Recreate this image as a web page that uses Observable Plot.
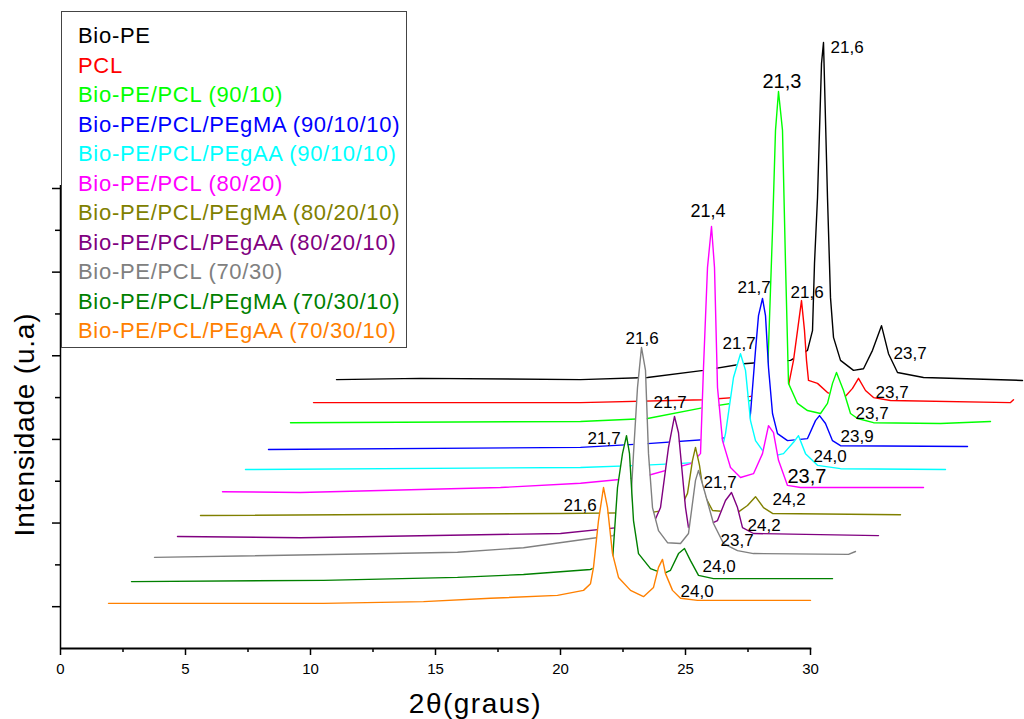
<!DOCTYPE html>
<html><head><meta charset="utf-8">
<script src="https://cdn.jsdelivr.net/npm/d3@7"></script>
<script src="https://cdn.jsdelivr.net/npm/@observablehq/plot@0.6"></script>
<style>
html,body{margin:0;padding:0;background:#fff;}
#wrap{position:relative;width:1024px;height:719px;font-family:"Liberation Sans",Arial,Helvetica,sans-serif;}
#legend{position:absolute;left:61px;top:11px;width:346px;height:337px;box-sizing:border-box;border:1px solid #444;background:#fff;padding-top:9px;}
#legend div{font-size:22px;line-height:29.5px;padding-left:16px;letter-spacing:0.7px;white-space:nowrap;}
</style></head>
<body><div id="wrap"><div id="legend"></div></div>
<script>
// ---- series: [2θ as plotted, intensity as plotted (offset waterfall)] ----
const bioPE = [[11.04,6.43],[14.4,6.46],[20.8,6.43],[23.48,6.48],[25.72,6.65],[27.32,6.81],[29.2,6.89],[29.88,7.13],[30.08,7.60],[30.16,9.21],[30.28,10.78],[30.44,13.99],[30.52,14.49],[30.68,10.78],[30.8,8.39],[30.92,7.44],[31.2,6.89],[31.72,6.65],[32.12,6.69],[32.48,7.13],[32.84,7.72],[33.12,7.05],[33.48,6.60],[34.52,6.48],[38.48,6.41]];
const pcl = [[10.12,5.88],[20.8,5.88],[25.72,5.95],[27.6,6.03],[29.12,6.29],[29.32,6.89],[29.48,7.60],[29.64,8.32],[29.76,7.60],[29.84,6.89],[29.92,6.41],[30.28,6.34],[30.68,6.12],[31.32,5.98],[31.68,6.22],[31.92,6.46],[32.2,6.17],[32.52,6.00],[33.2,5.93],[38.0,5.88],[38.12,5.95]];
const pe90 = [[9.2,5.40],[20.8,5.43],[23.48,5.50],[25.72,5.76],[27.6,5.93],[28.08,6.03],[28.28,6.48],[28.48,9.99],[28.6,12.39],[28.72,13.32],[28.88,12.39],[29.0,9.21],[29.12,6.34],[29.48,5.86],[29.88,5.69],[30.4,5.62],[30.68,5.86],[30.88,6.34],[31.04,6.60],[31.32,6.17],[31.6,5.62],[31.88,5.50],[32.52,5.40],[35.2,5.38],[37.2,5.43]];
const pma90 = [[8.32,4.76],[20.8,4.81],[23.48,4.90],[26.4,5.02],[27.48,5.14],[27.6,5.62],[27.8,7.13],[27.92,7.96],[28.08,8.37],[28.2,7.96],[28.32,6.72],[28.48,5.62],[28.68,5.14],[29.08,4.97],[29.88,5.02],[30.2,5.45],[30.36,5.57],[30.6,5.38],[30.88,4.97],[31.2,4.85],[36.28,4.83]];
const paa90 = [[7.4,4.28],[20.8,4.33],[23.2,4.38],[25.6,4.45],[26.4,4.61],[26.6,5.14],[26.92,6.48],[27.2,7.05],[27.4,6.65],[27.6,5.45],[27.8,4.97],[28.28,4.57],[28.92,4.66],[29.32,4.93],[29.52,5.09],[29.8,4.66],[30.28,4.38],[31.2,4.30],[35.4,4.28]];
const pe80 = [[6.48,3.75],[9.6,3.73],[17.6,3.85],[20.8,3.95],[23.2,4.09],[25.2,4.42],[25.6,4.66],[25.72,6.72],[25.88,9.11],[26.04,10.09],[26.16,9.11],[26.28,6.24],[26.48,4.97],[26.8,4.33],[27.2,4.09],[27.72,4.18],[28.08,4.66],[28.32,5.33],[28.52,5.16],[28.72,4.50],[29.08,3.90],[29.6,3.85],[34.52,3.85]];
const pma80 = [[5.6,3.18],[20.0,3.23],[23.6,3.25],[24.8,3.37],[25.08,3.71],[25.28,4.50],[25.4,4.81],[25.56,4.38],[25.72,3.71],[26.08,3.30],[27.08,3.25],[27.48,3.42],[27.8,3.63],[28.12,3.37],[28.48,3.23],[33.6,3.20]];
const paa80 = [[4.68,2.68],[9.6,2.65],[20.0,2.75],[22.28,2.89],[23.72,2.99],[24.0,3.37],[24.32,4.81],[24.56,5.55],[24.72,5.16],[25.0,3.37],[25.12,2.89],[25.6,2.87],[26.28,3.06],[26.6,3.54],[26.84,3.73],[27.08,3.37],[27.28,2.89],[27.72,2.75],[32.72,2.70]];
const pe70 = [[3.76,2.18],[13.2,2.27],[15.88,2.30],[18.52,2.41],[21.2,2.63],[22.12,2.70],[22.8,3.37],[22.92,4.66],[23.08,6.24],[23.24,7.20],[23.4,6.65],[23.52,4.66],[23.68,3.37],[23.92,2.82],[24.28,2.53],[24.8,2.51],[25.12,2.75],[25.4,4.02],[25.52,4.26],[25.72,3.85],[26.12,2.99],[26.52,2.51],[27.08,2.34],[27.72,2.27],[31.52,2.25],[31.8,2.32]];
const pma70 = [[2.84,1.60],[10.52,1.63],[15.88,1.70],[18.52,1.77],[21.2,1.89],[22.08,2.10],[22.28,3.85],[22.48,4.66],[22.64,5.09],[22.76,4.66],[22.92,3.06],[23.12,2.27],[23.6,1.91],[24.12,1.79],[24.4,1.87],[24.72,2.27],[24.96,2.39],[25.2,2.10],[25.52,1.75],[26.12,1.67],[30.88,1.67]];
const paa70 = [[1.92,1.08],[10.52,1.08],[14.52,1.12],[17.2,1.20],[19.88,1.27],[20.92,1.39],[21.2,1.55],[21.32,1.94],[21.52,3.06],[21.72,3.85],[21.88,3.37],[22.08,2.27],[22.32,1.70],[22.8,1.39],[23.32,1.24],[23.72,1.46],[23.92,1.94],[24.08,2.13],[24.2,1.79],[24.48,1.39],[24.8,1.20],[25.48,1.15],[30.0,1.15]];

const seriesNames = ["Bio-PE","PCL","Bio-PE/PCL (90/10)","Bio-PE/PCL/PEgMA (90/10/10)","Bio-PE/PCL/PEgAA (90/10/10)","Bio-PE/PCL (80/20)","Bio-PE/PCL/PEgMA (80/20/10)","Bio-PE/PCL/PEgAA (80/20/10)","Bio-PE/PCL (70/30)","Bio-PE/PCL/PEgMA (70/30/10)","Bio-PE/PCL/PEgAA (70/30/10)"];
const seriesData = [bioPE,pcl,pe90,pma90,paa90,pe80,pma80,paa80,pe70,pma70,paa70];
const seriesColors = ["#000000","#ff0000","#00ff00","#0000ff","#00ffff","#ff00ff","#808000","#800080","#808080","#008000","#ff8000"];

// peak annotations: text, 2θ (left edge), intensity (baseline)
const peakText = ["21,6","23,7","21,6","23,7","21,3","23,7","21,7","23,9","21,7","24,0","21,4","23,7","21,7","24,2","21,7","24,2","21,6","23,7","21,7","24,0","21,6","24,0"];
const peakX = [30.8,33.32,29.2,32.6,28.08,31.8,27.08,31.2,26.48,30.12,25.2,29.08,25.72,28.48,23.72,27.48,22.6,26.4,21.08,25.68,20.12,24.8];
const peakY = [14.23,6.93,8.39,6.00,13.41,5.50,8.49,4.93,7.17,4.45,10.31,3.95,3.85,3.42,5.76,2.82,7.29,2.44,4.90,1.84,3.30,1.22];

const xMajor = [0,5,10,15,20,25,30];
const xMinor = [2.5,7.5,12.5,17.5,22.5,27.5];
const yMajor = [1,3,5,7,9,11];
const yMinor = [2,4,6,8,10];

const FONT = '"Liberation Sans", Arial, Helvetica, sans-serif';
const labelSize = i => (i === 4 || i === 11) ? 20 : (i === 10 ? 18 : 17);

const marks = [];
seriesData.forEach((d, i) => {
  marks.push(Plot.areaY(d, {x: p => p[0], y: p => p[1], fill: "white"}));
  marks.push(Plot.line(d, {x: p => p[0], y: p => p[1], stroke: seriesColors[i], strokeWidth: 1.4}));
});
marks.push(
  Plot.ruleY([0], {x1: 0, x2: 30.05, stroke: "black", strokeWidth: 2}),
  Plot.ruleX([0], {y1: 0, y2: 11.07, stroke: "black", strokeWidth: 1.5}),
  Plot.axisX({ticks: xMajor, tickSize: 7, tickPadding: 8, fontSize: 15, strokeWidth: 1.5, tickFormat: d => String(d), label: null}),
  Plot.axisX({ticks: xMinor, tickSize: 4, strokeWidth: 1.5, tickFormat: () => "", label: null}),
  Plot.axisY({ticks: yMajor, tickSize: 8, strokeWidth: 1.5, tickFormat: () => "", label: null}),
  Plot.axisY({ticks: yMinor, tickSize: 5, strokeWidth: 1.5, tickFormat: () => "", label: null}),
  Plot.text(peakText, {x: (d, i) => peakX[i], y: (d, i) => peakY[i], text: d => d, textAnchor: "start", lineAnchor: "bottom", fontSize: (d, i) => labelSize(i), fill: "black"}),
  Plot.text(["2θ(graus)"], {text: d => d, frameAnchor: "bottom", dx: 40, dy: 56, fontSize: 28, lineAnchor: "middle", textAnchor: "middle", style: "letter-spacing:1.5px"}),
  Plot.text(["Intensidade (u.a)"], {text: d => d, frameAnchor: "left", dx: -35, dy: 6, rotate: -90, fontSize: 28, lineAnchor: "middle", textAnchor: "middle"})
);

const chart = Plot.plot({
  width: 1024, height: 719,
  marginLeft: 60, marginRight: 214, marginTop: 188, marginBottom: 71,
  x: {domain: [0, 30], label: null},
  y: {domain: [0, 11], label: null},
  style: {fontFamily: FONT, background: "white", overflow: "visible", color: "black"},
  marks
});
chart.style.position = "absolute";
chart.style.left = "0px";
chart.style.top = "0px";
// title glyph spacing
chart.querySelectorAll("text").forEach(t => {
  if (t.textContent === "2θ(graus)") t.setAttribute("letter-spacing", "1.5");
  if (t.textContent === "Intensidade (u.a)") t.setAttribute("letter-spacing", "0.8");
});
const wrap = document.getElementById("wrap");
wrap.insertBefore(chart, wrap.firstChild);

const legend = document.getElementById("legend");
seriesNames.forEach((n, i) => {
  const div = document.createElement("div");
  div.textContent = n;
  div.style.color = seriesColors[i];
  legend.appendChild(div);
});
</script>
</body></html>
